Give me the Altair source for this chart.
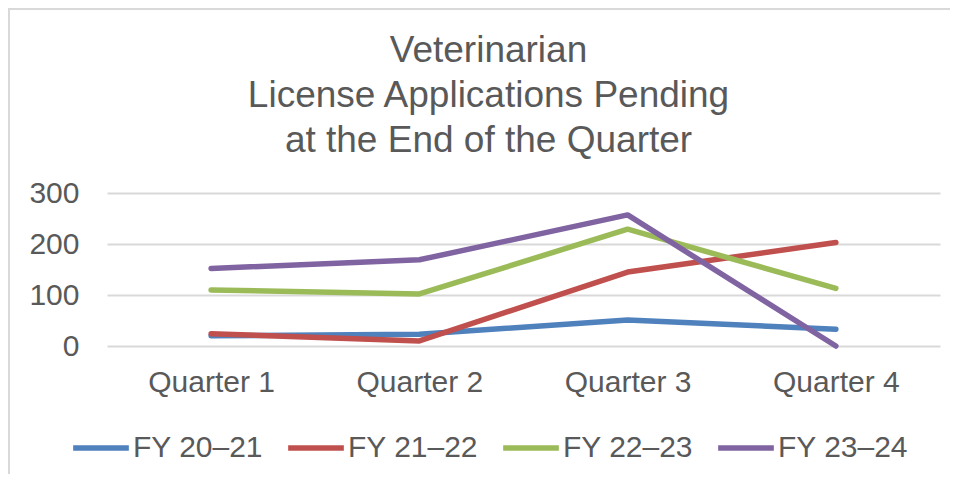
import altair as alt
import pandas as pd

quarters = ["Quarter 1", "Quarter 2", "Quarter 3", "Quarter 4"]
series_names = ["FY 20–21", "FY 21–22", "FY 22–23", "FY 23–24"]
fy2021 = [20, 23, 51, 33]
fy2122 = [24, 10, 145, 203]
fy2223 = [110, 102, 229, 113]
fy2324 = [152, 169, 257, 0]
colors = ["#4F81BD", "#C0504D", "#9BBB59", "#8064A2"]
y_ticks = [0, 100, 200, 300]
title_lines = ["Veterinarian", "License Applications Pending", "at the End of the Quarter"]

rows = []
for name, vals in zip(series_names, [fy2021, fy2122, fy2223, fy2324]):
    for q, v in zip(quarters, vals):
        rows.append({"Quarter": q, "Series": name, "Value": v})
df = pd.DataFrame(rows)

FONT = "Liberation Sans"
TXT = "#595959"

lines = alt.Chart(df).mark_line(strokeWidth=5.5, strokeCap="round", strokeJoin="round").encode(
    x=alt.X("Quarter:N", sort=quarters,
            scale=alt.Scale(type="point", padding=0.5),
            axis=alt.Axis(title=None, labelAngle=0, domain=False, ticks=False, grid=False,
                          labelFontSize=30, labelColor=TXT, labelFont=FONT, labelPadding=21)),
    y=alt.Y("Value:Q", scale=alt.Scale(domain=[0, 300], nice=False),
            axis=alt.Axis(title=None, values=y_ticks, domain=False, ticks=False, grid=True,
                          gridColor="#D9D9D9", gridWidth=2,
                          labelFontSize=30, labelColor=TXT, labelFont=FONT, labelPadding=28)),
    color=alt.Color("Series:N", sort=series_names,
                    scale=alt.Scale(domain=series_names, range=colors),
                    legend=alt.Legend(title=None, orient="none", direction="horizontal",
                                      legendX=-37, legendY=224,
                                      symbolType="stroke", symbolStrokeWidth=5.5, symbolSize=3100,
                                      labelFontSize=30, labelColor=TXT, labelFont=FONT,
                                      labelOffset=1, columnPadding=13, labelLimit=400)),
    order=alt.Order("Series:N"),
)

frame_df = pd.DataFrame({"k": [0]})
left_border = alt.Chart(frame_df).mark_rule(color="#D9D9D9", strokeWidth=2).encode(
    x=alt.value(-98), y=alt.value(-186), y2=alt.value(300))
top_border = alt.Chart(frame_df).mark_rule(color="#D9D9D9", strokeWidth=2).encode(
    x=alt.value(-98), x2=alt.value(900), y=alt.value(-184))

chart = alt.layer(lines, left_border, top_border).properties(
    width=833, height=153,
    background="white",
    title=alt.TitleParams(title_lines,
                          fontSize=37, font=FONT, color=TXT, fontWeight="normal",
                          lineHeight=45, anchor="middle", dx=-35, offset=-154),
    autosize=alt.AutoSizeParams(type="none"),
    padding={"left": 99, "top": 185, "right": 10, "bottom": 128},
).configure_view(strokeWidth=0)

chart.save("out.html", embed_options={"renderer": "svg", "actions": False})
